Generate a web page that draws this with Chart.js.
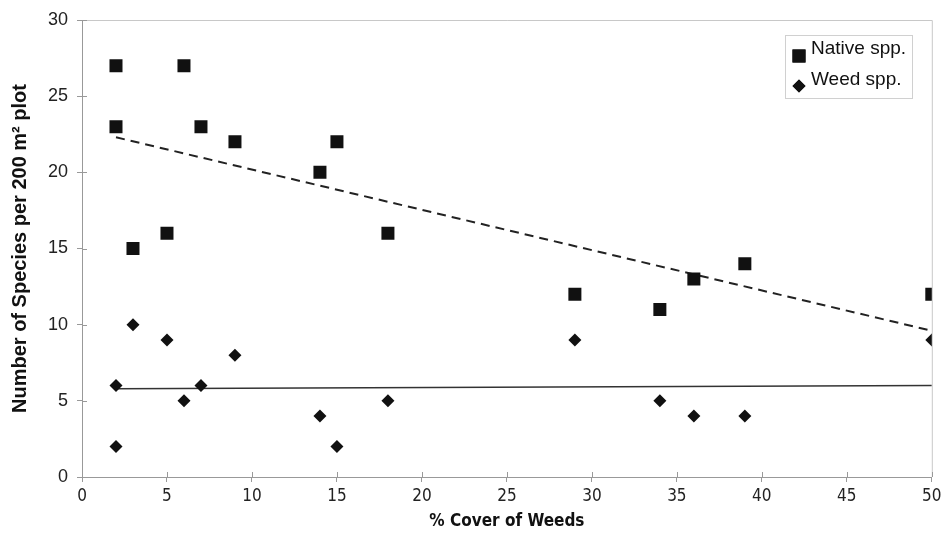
<!DOCTYPE html>
<html lang="en">
<head>
<meta charset="UTF-8">
<title>Species vs weed cover</title>
<script src="https://cdn.jsdelivr.net/npm/chart.js"></script>
<style>
  html, body { margin: 0; padding: 0; background: #fff; }
  #wrap { width: 941px; height: 535px; }
</style>
</head>
<body>
<div id="wrap"><canvas id="chart" width="941" height="535"></canvas></div>
<script>
// % cover of weeds per plot
const cover = [2, 2, 3, 5, 6, 7, 9, 14, 15, 18, 29, 34, 36, 39, 50];
const nativeSpp = [27, 23, 15, 16, 27, 23, 22, 20, 22, 16, 12, 11, 13, 14, 12];
const coverWeed = [2, 2, 3, 5, 6, 7, 9, 14, 15, 18, 29, 34, 36, 39, 50];
const weedSpp = [6, 2, 10, 9, 5, 6, 8, 4, 2, 5, 9, 5, 4, 4, 9];

// linear trend end points
const trendX = [2, 50];
const nativeTrend = [22.3, 9.6];
const weedTrend = [5.8, 6.0];

const xTicks = [0, 5, 10, 15, 20, 25, 30, 35, 40, 45, 50];
const yTicks = [0, 5, 10, 15, 20, 25, 30];

const toPts = (xs, ys) => xs.map((x, i) => ({ x: x, y: ys[i] }));

const font = 'Liberation Sans, Arial, sans-serif';
const narrow = '"Liberation Sans Narrow", "Arial Narrow", "DejaVu Sans Condensed", Liberation Sans, sans-serif';

// frame + inner half of the cross ticks
const framePlugin = {
  id: 'frame',
  beforeDatasetsDraw(chart) {
    const { ctx, chartArea: a, scales } = chart;
    ctx.save();
    ctx.strokeStyle = '#c8c8c8';
    ctx.lineWidth = 1;
    ctx.beginPath();
    ctx.moveTo(a.left, a.top + 0.5);
    ctx.lineTo(a.right + 0.5, a.top + 0.5);
    ctx.lineTo(a.right + 0.5, a.bottom);
    ctx.stroke();
    ctx.strokeStyle = '#999';
    ctx.beginPath();
    xTicks.forEach(v => {
      const px = Math.round(scales.x.getPixelForValue(v)) + 0.5;
      ctx.moveTo(px, a.bottom);
      ctx.lineTo(px, a.bottom - 5);
    });
    yTicks.forEach(v => {
      const py = Math.round(scales.y.getPixelForValue(v)) + 0.5;
      ctx.moveTo(a.left, py);
      ctx.lineTo(a.left + 5, py);
    });
    ctx.stroke();
    ctx.restore();
  }
};

// boxed legend inside the plot
const legendBox = {
  id: 'legendBox',
  afterDraw(chart) {
    const { ctx } = chart;
    const items = [
      { label: 'Native spp.', style: 'rect', r: 9.2, ty: 49, my: 56 },
      { label: 'Weed spp.', style: 'rectRot', r: 6.5, ty: 80, my: 86 }
    ];
    ctx.save();
    ctx.strokeStyle = '#d0d0d0';
    ctx.lineWidth = 1;
    ctx.strokeRect(785.5, 35.5, 127, 63);
    ctx.font = '19px ' + font;
    ctx.textBaseline = 'middle';
    items.forEach(it => {
      Chart.helpers.drawPoint(ctx, { pointStyle: it.style, radius: it.r, borderWidth: 0 }, 799, it.my);
      ctx.fillStyle = '#111';
      ctx.fill();
      ctx.fillText(it.label, 811, it.ty);
    });
    ctx.restore();
  }
};

new Chart(document.getElementById('chart'), {
  type: 'scatter',
  data: {
    datasets: [
      {
        label: 'Native spp.',
        data: toPts(cover, nativeSpp),
        pointStyle: 'rect',
        pointRadius: 9.2,
        backgroundColor: '#111',
        borderColor: '#111',
        borderWidth: 0
      },
      {
        label: 'Weed spp.',
        data: toPts(coverWeed, weedSpp),
        pointStyle: 'rectRot',
        pointRadius: 6.5,
        backgroundColor: '#111',
        borderColor: '#111',
        borderWidth: 0
      },
      {
        type: 'line',
        label: 'Native trend',
        data: toPts(trendX, nativeTrend),
        borderColor: '#222',
        borderWidth: 2,
        borderDash: [9, 6],
        pointRadius: 0,
        fill: false
      },
      {
        type: 'line',
        label: 'Weed trend',
        data: toPts(trendX, weedTrend),
        borderColor: '#333',
        borderWidth: 1.5,
        pointRadius: 0,
        fill: false
      }
    ]
  },
  options: {
    responsive: false,
    animation: false,
    layout: { padding: { top: 20, right: 7, left: 0, bottom: 0 } },
    plugins: {
      legend: { display: false },
      tooltip: { enabled: false }
    },
    scales: {
      x: {
        type: 'linear',
        min: 0,
        max: 50,
        afterFit(s) { s.height = 58; s.paddingLeft = 0; s.paddingRight = 0; },
        afterBuildTicks(s) { s.ticks = xTicks.map(v => ({ value: v })); },
        grid: { drawOnChartArea: false, tickLength: 5, color: '#999' },
        border: { color: '#999' },
        ticks: { color: '#222', font: { family: narrow, size: 17 }, padding: 4 },
        title: {
          display: true,
          text: '% Cover of Weeds',
          color: '#111',
          font: { family: narrow, size: 17, weight: 'bold' },
          padding: { top: 0, bottom: 3 }
        }
      },
      y: {
        type: 'linear',
        min: 0,
        max: 30,
        afterFit(s) { s.width = 82; s.paddingTop = 0; s.paddingBottom = 0; },
        afterBuildTicks(s) { s.ticks = yTicks.map(v => ({ value: v })); },
        grid: { drawOnChartArea: false, tickLength: 5, color: '#999' },
        border: { color: '#999' },
        ticks: { color: '#222', font: { family: font, size: 18 }, padding: 9 },
        title: {
          display: true,
          text: 'Number of Species per 200 m² plot',
          color: '#111',
          font: { family: font, size: 20, weight: 'bold' },
          padding: { top: 8, bottom: 2 }
        }
      }
    }
  },
  plugins: [framePlugin, legendBox]
});
</script>
</body>
</html>
